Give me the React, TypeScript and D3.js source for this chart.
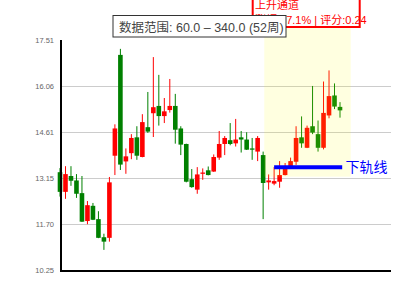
import React from "react";
import * as d3 from "d3";

// ---- data (weekly candles, 52 weeks) ----
const opens = [13.35, 12.73, 13.23, 13.09, 12.69, 11.81, 12.29, 11.87, 11.30, 11.28, 13.87, 17.05, 13.69, 13.95, 14.45, 13.83, 14.77, 15.21, 15.44, 15.12, 15.31, 15.44, 14.73, 14.24, 13.13, 12.80, 13.30, 13.41, 13.37, 13.81, 14.24, 14.36, 14.26, 14.45, 14.38, 14.10, 14.00, 13.89, 13.03, 12.99, 13.05, 13.26, 13.47, 13.68, 14.45, 14.12, 14.80, 14.55, 14.12, 15.14, 15.77, 15.41];
const closes = [12.73, 13.29, 13.08, 12.67, 11.79, 12.31, 11.85, 11.28, 11.16, 13.03, 14.73, 13.59, 13.85, 14.43, 13.87, 14.93, 14.63, 15.40, 15.12, 15.27, 15.44, 14.69, 14.22, 13.05, 12.88, 13.28, 13.34, 13.26, 13.83, 14.24, 14.43, 14.24, 14.38, 14.38, 14.06, 14.06, 14.43, 13.01, 13.09, 13.07, 13.26, 13.47, 13.70, 14.43, 14.26, 14.75, 14.60, 14.12, 15.22, 15.75, 15.42, 15.30];
const highs = [13.48, 13.54, 13.54, 13.29, 13.23, 12.44, 12.38, 12.12, 11.41, 13.20, 14.86, 17.24, 14.10, 14.55, 14.80, 15.18, 15.88, 16.98, 16.42, 15.69, 16.29, 15.82, 14.80, 14.25, 13.45, 13.51, 13.47, 13.53, 13.91, 14.65, 14.49, 14.90, 15.03, 14.65, 14.61, 14.43, 14.49, 14.00, 13.28, 13.51, 13.70, 13.64, 13.81, 14.80, 15.11, 14.82, 16.07, 14.98, 16.21, 16.56, 16.15, 15.56];
const lows = [12.58, 12.51, 12.92, 12.54, 11.78, 11.71, 11.84, 11.27, 10.90, 11.16, 13.26, 13.42, 13.30, 13.76, 13.74, 13.82, 14.59, 14.46, 14.82, 14.90, 15.23, 14.25, 13.89, 13.03, 12.86, 12.67, 13.11, 13.25, 13.36, 13.74, 13.89, 14.20, 14.16, 13.97, 14.05, 13.74, 13.70, 11.87, 12.80, 12.94, 12.86, 13.25, 13.45, 13.58, 14.12, 14.11, 14.55, 14.00, 14.07, 15.05, 15.34, 15.07];

const yTicks = [17.51, 16.06, 14.61, 13.15, 11.70, 10.25];
const yDomain = [10.25, 17.51];
const xDomain = [0, 51];

// channel highlight (index range, price range)
const channelIndex = [37.2, 52.95];
const channelPrice = [13.21, 18.8];
// lower band line
const lowerLineIndex = [39, 51.4];
const lowerLinePrice = 13.51;

const rangeLabel = "数据范围: 60.0 – 340.0 (52周)";
const channelTitle = "上升通道";
const channelInfo = "涨幅:27.1% | 评分:0.24";
const lowerLineLabel = "下轨线";

const FONT = "Arial, 'Liberation Sans', Helvetica, 'Noto Sans CJK SC', sans-serif";

export default function App() {
  const x = d3.scaleLinear().domain(xDomain).range([60, 340]);
  const y = d3.scaleLinear().domain(yDomain).range([270.5, 40.3]);
  const candleW = 4.6;
  const crisp = (v: number) => Math.floor(v) + 0.5;

  const candles = opens.map((o, i) => ({ i, o, c: closes[i], h: highs[i], l: lows[i] }));

  return (
    <svg
      width={400}
      height={300}
      style={{ position: "absolute", left: 0, top: 0, background: "#fff" }}
      fontFamily={FONT}
    >
      {/* grid */}
      {yTicks.slice(1, -1).map((t) => (
        <line key={t} x1={61} x2={391} y1={crisp(y(t))} y2={crisp(y(t))} stroke="#cccccc" strokeWidth={1} />
      ))}
      {/* tick labels */}
      {yTicks.map((t) => (
        <text key={t} x={54} y={y(t)} dy="0.35em" textAnchor="end" fontSize={7.5} fill="#666">
          {d3.format(".2f")(t)}
        </text>
      ))}
      {/* candles */}
      {candles.map((d) => {
        const col = d.c >= d.o ? "#ff0000" : "#008000";
        const cx = x(d.i);
        const top = y(Math.max(d.o, d.c));
        const bot = y(Math.min(d.o, d.c));
        return (
          <g key={d.i}>
            <line x1={cx} x2={cx} y1={y(d.h)} y2={y(d.l)} stroke={col} strokeWidth={1} />
            <rect x={cx - candleW / 2} y={top} width={candleW} height={Math.max(1, bot - top)} fill={col} />
          </g>
        );
      })}
      {/* channel highlight */}
      <rect
        x={x(channelIndex[0])}
        width={x(channelIndex[1]) - x(channelIndex[0])}
        y={y(channelPrice[1])}
        height={y(channelPrice[0]) - y(channelPrice[1])}
        fill="yellow"
        fillOpacity={0.12}
      />
      {/* axes */}
      <line x1={61} x2={61} y1={40} y2={272} stroke="#000" strokeWidth={2} />
      <line x1={60} x2={391} y1={271} y2={271} stroke="#000" strokeWidth={2} />
      {/* lower band line */}
      <line
        x1={x(lowerLineIndex[0])}
        x2={x(lowerLineIndex[1])}
        y1={y(lowerLinePrice)}
        y2={y(lowerLinePrice)}
        stroke="#0000ff"
        strokeWidth={4}
      />
      <text x={345.5} y={y(lowerLinePrice)} dy="0.35em" fontSize={14} fill="#0000ff">
        {lowerLineLabel}
      </text>
      {/* channel info box */}
      <rect x={252.7} y={-8} width={107} height={35} fill="#fff" stroke="#ff0000" strokeWidth={2} />
      <text x={255} y={8.5} fontSize={11} fill="#ff0000">{channelTitle}</text>
      <text x={255} y={24} fontSize={11} fill="#ff0000">{channelInfo}</text>
      {/* data range box */}
      <rect x={113} y={15.5} width={173} height={21.5} fill="#fff" stroke="#333" strokeWidth={1} />
      <text x={119} y={32} fontSize={12.5} fill="#444">{rangeLabel}</text>
    </svg>
  );
}
